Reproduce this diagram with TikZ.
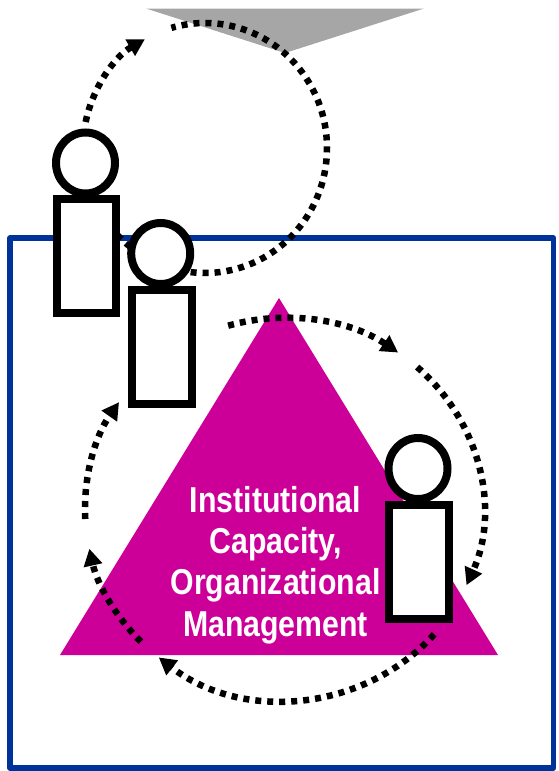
\documentclass[tikz,border=0pt]{standalone}
\usepackage{fontspec}
\setmainfont[FakeStretch=0.84]{Liberation Sans}
\usetikzlibrary{arrows.meta,shapes.geometric}
\definecolor{framecol}{HTML}{003399}
\definecolor{trianglecol}{HTML}{CC0099}
\definecolor{funnelcol}{HTML}{A6A6A6}
\tikzset{
  x=1pt,y=-1pt,
  frameline/.style={draw=framecol,line width=5.5pt,line join=round},
  loopline/.style={draw=black,line width=6.5pt,dash pattern=on 6pt off 6pt},
  looparrow/.style={loopline,-{Triangle[length=17pt,width=18pt]}},
  headshape/.style={ellipse,draw=black,fill=white,line width=8pt,minimum width=59pt,minimum height=61pt,inner sep=0pt},
  bodyshape/.style={rectangle,draw=black,fill=white,line width=8pt,minimum width=59.5pt,minimum height=114pt,inner sep=0pt},
  captext/.style={text=white,font=\fontsize{36}{41.3}\selectfont\bfseries,align=center,inner sep=0pt}
}
\begin{document}
\begin{tikzpicture}
\useasboundingbox (0,0) rectangle (558,771);
\fill[funnelcol] (146,8.5) -- (424,8.5) -- (285,53) -- cycle;
\draw[frameline] (10,238) rectangle (553.5,768);
\fill[trianglecol] (279,298) -- (498,655) -- (60,655) -- cycle;
\node[captext] (cap) at (275.5,565) {Institutional\\Capacity,\\Organizational\\Management};
\coordinate (cu) at (205,148);
\coordinate (cl) at (284,509);
% upper loop
\draw[loopline] (cu) ++(-136:122pt and 125pt) arc[start angle=-136,end angle=106,x radius=122pt,y radius=125pt];
\draw[looparrow] (cu) ++(168:122pt and 125pt) arc[start angle=168,end angle=119.5,x radius=122pt,y radius=125pt];
% lower loop
\draw[looparrow] (cl) ++(106.3:199pt and 191pt) arc[start angle=106.3,end angle=55,x radius=199pt,y radius=191pt];
\draw[looparrow] (cl) ++(48:199pt and 191pt) arc[start angle=48,end angle=-23.5,x radius=199pt,y radius=191pt];
\draw[looparrow] (cl) ++(-41:199pt and 191pt) arc[start angle=-41,end angle=-129,x radius=199pt,y radius=191pt];
\draw[looparrow] (cl) ++(-136:199pt and 191pt) arc[start angle=-136,end angle=-168,x radius=199pt,y radius=191pt];
\draw[looparrow] (cl) ++(183:199pt and 191pt) arc[start angle=183,end angle=146,x radius=199pt,y radius=191pt];
% people
\node[headshape] (h1) at (85.5,163) {};
\node[bodyshape] (b1) at (86.3,256) {};
\node[headshape] (h2) at (160.7,253.5) {};
\node[bodyshape] (b2) at (162,346.7) {};
\node[headshape] (h3) at (418,468.5) {};
\node[bodyshape] (b3) at (419,562) {};
\end{tikzpicture}
\end{document}
